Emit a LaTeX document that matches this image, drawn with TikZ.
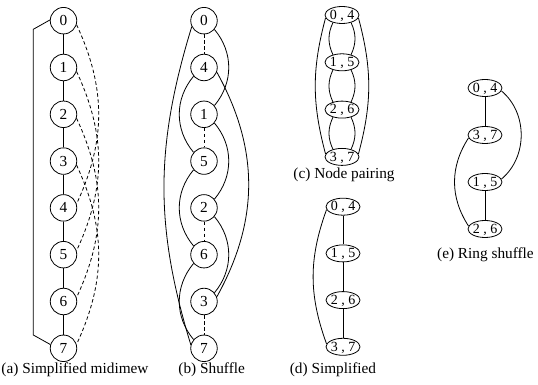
\documentclass[tikz,border=0pt]{standalone}
\usepackage{fontspec}
\setmainfont{Liberation Serif}
\usetikzlibrary{positioning,shapes.geometric}
\tikzset{
  node distance=46.8pt, font=\fontsize{15.3}{18}\selectfont,
  vertex/.style={circle, draw, minimum size=26.5pt, inner sep=0pt},
  pair/.style={ellipse, draw, minimum width=34pt, minimum height=17pt, inner sep=-2pt,
    font=\fontsize{14}{16}\selectfont, text height=9.5pt, text depth=1pt},
  chord/.style={dash pattern=on 3.5pt off 2.5pt},
  caption/.style={anchor=base}
  }

\begin{document}
\begin{tikzpicture}[x=1pt, y=1pt, line width=0.8pt]
\useasboundingbox (0,0) rectangle (538,385);

    % (a) simplified midimew
    \node [vertex] at (63.5,364.3) (a0) {0};
    \node [vertex, below of=a0] (a1) {1};
    \node [vertex, below of=a1] (a2) {2};
    \node [vertex, below of=a2] (a3) {3};
    \node [vertex, below of=a3] (a4) {4};
    \node [vertex, below of=a4] (a5) {5};
    \node [vertex, below of=a5] (a6) {6};
    \node [vertex, below of=a6] (a7) {7};
    \node [caption] at (75,11) (capa) {(a) Simplified midimew};
    \coordinate (rtop) at (33.3,355.7);
    \coordinate (rbot) at (33.3,50);
    \draw (a0) -- (a1) -- (a2) -- (a3) -- (a4) -- (a5) -- (a6) -- (a7);
    \draw (a0.177) -- (rtop) -- (rbot) -- (a7.164);
    \draw [chord] (a0.-17) to[out=-65, in=65] (a4.17);
    \draw [chord] (a1.-17) to[out=-65, in=65] (a5.17);
    \draw [chord] (a2.-17) to[out=-65, in=65] (a6.17);
    \draw [chord] (a3.-17) to[out=-65, in=65] (a7.17);

    % (b) shuffle
    \node [vertex] at (204,364.3) (b0) {0};
    \node [vertex, below of=b0] (b4) {4};
    \node [vertex, below of=b4] (b1) {1};
    \node [vertex, below of=b1] (b5) {5};
    \node [vertex, below of=b5] (b2) {2};
    \node [vertex, below of=b2] (b6) {6};
    \node [vertex, below of=b6] (b3) {3};
    \node [vertex, below of=b3] (b7) {7};
    \node [caption] at (211.7,11) (capb) {(b) Shuffle};
    \draw [chord] (b0) -- (b4);
    \draw [chord] (b1) -- (b5);
    \draw [chord] (b2) -- (b6);
    \draw [chord] (b3) -- (b7);
    \draw (b0.-40) to[out=-50, in=50] (b1.40);
    \draw (b1.-40) to[out=-50, in=50] (b2.40);
    \draw (b2.-40) to[out=-50, in=50] (b3.40);
    \draw (b4.-140) to[out=-130, in=130] (b5.140);
    \draw (b5.-140) to[out=-130, in=130] (b6.140);
    \draw (b6.-140) to[out=-130, in=130] (b7.140);
    \draw (b4.-20) to[out=-61, in=61] (b3.20);
    \draw (b0.-154) to[out=-107, in=107] (b7.165);

    % (c) node pairing
    \node [pair] at (342,370) (c04) {0 , 4};
    \node [pair, below of=c04, node distance=47.3pt] (c15) {1 , 5};
    \node [pair, below of=c15, node distance=47.3pt] (c26) {2 , 6};
    \node [pair, below of=c26, node distance=47.3pt] (c37) {3 , 7};
    \node [caption] at (344,206) (capc) {(c) Node pairing};
    \draw (c04.-140) to[out=-115, in=115] (c15.140);
    \draw (c04.-40) to[out=-65, in=65] (c15.40);
    \draw (c15.-140) to[out=-115, in=115] (c26.140);
    \draw (c15.-40) to[out=-65, in=65] (c26.40);
    \draw (c26.-140) to[out=-115, in=115] (c37.140);
    \draw (c26.-40) to[out=-65, in=65] (c37.40);
    \draw (c04.190) to[out=-105, in=105] (c37.170);
    \draw (c04.-10) to[out=-75, in=75] (c37.10);

    % (d) simplified
    \node [pair] at (343,178.3) (d04) {0 , 4};
    \node [pair, below of=d04, node distance=46.7pt] (d15) {1 , 5};
    \node [pair, below of=d15, node distance=46.7pt] (d26) {2 , 6};
    \node [pair, below of=d26, node distance=46.7pt] (d37) {3 , 7};
    \node [caption] at (333,11) (capd) {(d) Simplified};
    \draw (d04) -- (d15) -- (d26) -- (d37);
    \draw (d04.190) to[out=-110, in=110] (d37.170);

    % (e) ring shuffle
    \node [pair] at (485,297) (e04) {0 , 4};
    \node [pair, below of=e04, node distance=47pt] (e37) {3 , 7};
    \node [pair, below of=e37, node distance=47pt] (e15) {1 , 5};
    \node [pair, below of=e15, node distance=47pt] (e26) {2 , 6};
    \node [caption, anchor=base east] at (537.5,126) (cape) {(e) Ring shuffle};
    \draw (e04) -- (e37);
    \draw (e15) -- (e26);
    \draw (e04.-10) to[out=-40, in=40] (e15.10);
    \draw (e37.190) to[out=-123, in=123] (e26.170);

\end{tikzpicture}
\end{document}
